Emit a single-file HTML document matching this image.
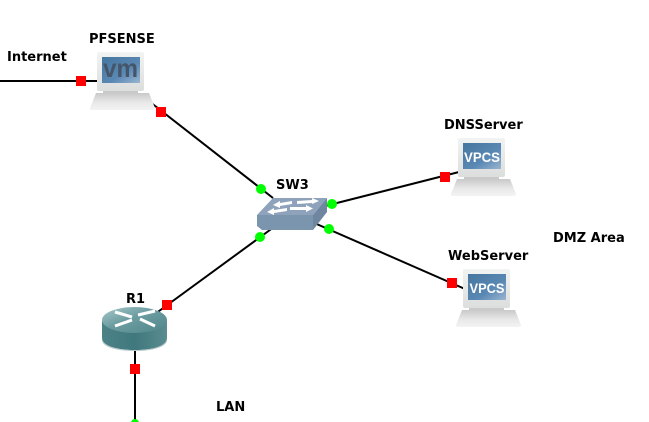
<!DOCTYPE html>
<html>
<head>
<meta charset="utf-8">
<style>
html,body{margin:0;padding:0;background:#fff;width:649px;height:422px;overflow:hidden}
svg{display:block}
text{font-family:"DejaVu Sans","Liberation Sans",sans-serif;font-weight:bold;font-size:13px;fill:#000}
</style>
</head>
<body>
<svg width="649" height="422" viewBox="0 0 649 422" xmlns="http://www.w3.org/2000/svg">
<defs>
<linearGradient id="mon" x1="0" y1="0" x2="0" y2="1"><stop offset="0" stop-color="#f2f3f3"/><stop offset="1" stop-color="#dcdddd"/></linearGradient>
<linearGradient id="base" x1="0" y1="0" x2="0" y2="1"><stop offset="0" stop-color="#c8c9c8"/><stop offset=".55" stop-color="#e8e8e8"/><stop offset="1" stop-color="#f3f3f3"/></linearGradient>
<linearGradient id="scr" x1="0" y1="0" x2="1" y2="1"><stop offset="0" stop-color="#44769f"/><stop offset=".6" stop-color="#5a88b4"/><stop offset="1" stop-color="#9ab6d0"/></linearGradient>
<linearGradient id="rt" x1="0" y1="0" x2="1" y2="1"><stop offset="0" stop-color="#a8c8ca"/><stop offset=".45" stop-color="#6b9ca0"/><stop offset="1" stop-color="#4f878c"/></linearGradient>
<linearGradient id="rb" x1="0" y1="0" x2="1" y2="0"><stop offset="0" stop-color="#4c8287"/><stop offset=".5" stop-color="#3f787d"/><stop offset="1" stop-color="#5a8c90"/></linearGradient>
<g id="pc">
<rect x="0" y="0" width="47" height="39" rx="2" fill="url(#mon)"/>
<rect x="5" y="5" width="38" height="26" fill="url(#scr)"/>
<path d="M6 39H41V42H6Z" fill="#c8c9c8"/>
<path d="M-1 41H52L58 56Q58 58 55 58H-4Q-8 58 -7 56Z" fill="url(#base)"/>
</g>
</defs>

<g stroke="#000" stroke-width="2" fill="none">
<line x1="0" y1="81" x2="98" y2="81"/>
<line x1="150" y1="102" x2="273" y2="198"/>
<line x1="325" y1="206" x2="459" y2="172"/>
<line x1="312" y1="222" x2="465" y2="289"/>
<line x1="155" y1="314" x2="274" y2="227"/>
<line x1="135" y1="348" x2="135" y2="422"/>
</g>

<use href="#pc" x="97" y="52"/>
<use href="#pc" x="458" y="138"/>
<use href="#pc" x="463" y="269"/>

<text x="103" y="77" style="font-family:'Liberation Sans',sans-serif;font-size:26px;fill:#46566a" textLength="35" lengthAdjust="spacingAndGlyphs">vm</text>
<text x="464" y="162" style="font-family:'Liberation Sans',sans-serif;font-size:13.500px;fill:#fff" textLength="36" lengthAdjust="spacingAndGlyphs">VPCS</text>
<text x="469.500" y="293" style="font-family:'Liberation Sans',sans-serif;font-size:13.500px;fill:#fff" textLength="35" lengthAdjust="spacingAndGlyphs">VPCS</text>

<!-- switch -->
<path d="M273 198H327L313 215H257Z" fill="#8ea3bb"/>
<path d="M257 215H313V230H262L257 226Z" fill="#7c95ae"/>
<path d="M313 215L327 198V212L313 230Z" fill="#6e86a0"/>
<g fill="#fff">
<path d="M273 205L280 201V203L292 201V204L280 206V208Z"/>
<path d="M297 201L312 200V198L319 201L312 204V203L297 204Z"/>
<path d="M267 212L274 208V210L287 208V211L274 213V215Z"/>
<path d="M290 207L306 207V205L313 208.500L306 212V210L290 210Z"/>
</g>

<!-- router -->
<path d="M102 321V338C102 346 117 350 135 350C153 350 167 346 167 338V321Z" fill="url(#rb)"/>
<path d="M102 338C102 346 117 350 135 350C153 350 167 346 167 338V340C167 347 153 351 135 351C117 351 102 347 102 340Z" fill="#b9c9ca"/>
<ellipse cx="134.500" cy="320" rx="32.500" ry="13" fill="url(#rt)"/>
<g stroke="#fff" stroke-width="3" fill="none">
<line x1="115" y1="312" x2="132" y2="317"/>
<line x1="140" y1="319" x2="155" y2="326"/>
<line x1="115" y1="326" x2="132" y2="320"/>
<line x1="138" y1="315" x2="155" y2="311"/>
</g>

<!-- red ports -->
<g fill="#f00">
<rect x="76" y="76" width="10" height="10"/>
<rect x="156" y="107" width="10" height="10"/>
<rect x="440" y="172" width="10" height="10"/>
<rect x="447" y="278" width="10" height="10"/>
<rect x="162" y="300" width="10" height="10"/>
<rect x="130" y="364" width="10" height="10"/>
</g>

<!-- green ports -->
<g fill="#0f0">
<circle cx="261" cy="189" r="5"/>
<circle cx="332" cy="204" r="5"/>
<circle cx="329" cy="229" r="5"/>
<circle cx="260" cy="237" r="5"/>
<circle cx="135" cy="423" r="4"/>
</g>

<text x="7" y="61">Internet</text>
<text x="89" y="43">PFSENSE</text>
<text x="444" y="129">DNSServer</text>
<text x="276" y="189">SW3</text>
<text x="448" y="260">WebServer</text>
<text x="553" y="242">DMZ Area</text>
<text x="126" y="303">R1</text>
<text x="216" y="411">LAN</text>
</svg>
</body>
</html>
